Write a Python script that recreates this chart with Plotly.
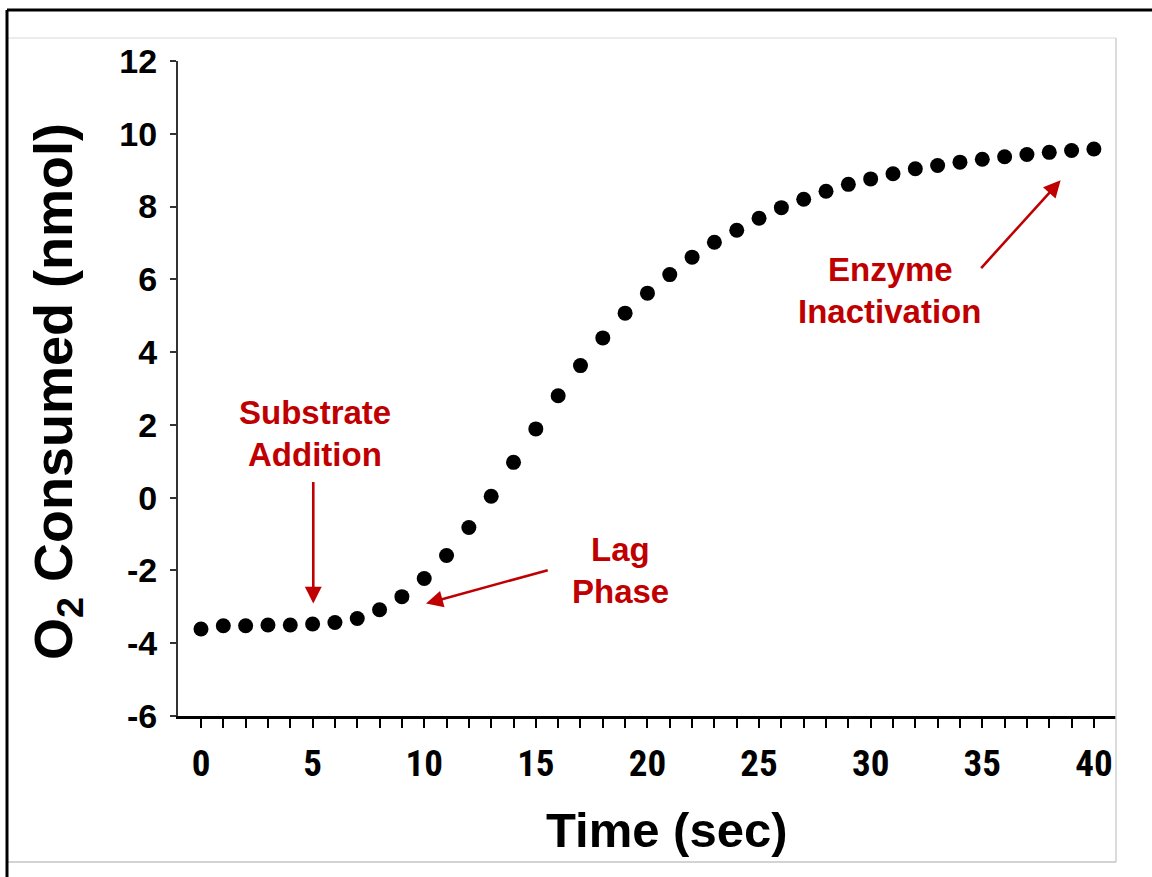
import plotly.graph_objects as go

# ---- data ----
time_sec = list(range(0, 41))
o2_nmol = [-3.61, -3.52, -3.52, -3.50, -3.50, -3.47, -3.43, -3.32, -3.08, -2.72,
           -2.22, -1.59, -0.82, 0.04, 0.97, 1.89, 2.80, 3.63, 4.39, 5.07,
           5.62, 6.13, 6.61, 7.02, 7.35, 7.68, 7.97, 8.20, 8.42, 8.61,
           8.76, 8.90, 9.04, 9.13, 9.22, 9.30, 9.37, 9.43, 9.49, 9.54, 9.58]
x_tick_vals = list(range(0, 41))
x_tick_text = [str(v) if v % 5 == 0 else "" for v in x_tick_vals]
y_tick_vals = [-6, -4, -2, 0, 2, 4, 6, 8, 10, 12]
y_tick_text = [str(v) for v in y_tick_vals]

# ---- layout geometry (pixels) ----
W, H = 1152, 877
L, R, T, B = 178, 36, 61, 161
PW, PH = W - L - R, H - T - B


def px(x):
    return (x - L) / PW


def py(y):
    return (H - B - y) / PH


RED = "#C00000"
BOLD = "Liberation Sans, Arial, Helvetica, sans-serif"
NARROW = "Liberation Sans Narrow, Arial Narrow, Roboto Condensed, Liberation Sans, sans-serif"

fig = go.Figure()
fig.add_trace(go.Scatter(
    x=time_sec, y=o2_nmol, mode="markers",
    marker=dict(size=15, color="black"),
    showlegend=False, hoverinfo="x+y"))

shapes = []


def line(x0, y0, x1, y1, color, width):
    shapes.append(dict(type="line", xref="paper", yref="paper",
                       x0=px(x0), y0=py(y0), x1=px(x1), y1=py(y1),
                       line=dict(color=color, width=width), layer="above"))


line(7, 38, 1116, 38, "#e6e6e6", 1.5)
line(1116, 38, 1116, 862, "#cfcfcf", 1.5)
line(7, 862, 1116, 862, "#c4c4c4", 1.5)
line(7, 10, W, 10, "black", 3)
line(7, 10, 7, H, "black", 3)

annotations = []


def text(label, xp, yp, size=33, color=RED, angle=0):
    annotations.append(dict(text=label, xref="paper", yref="paper",
                            x=px(xp), y=py(yp), xanchor="center", yanchor="middle",
                            showarrow=False, textangle=angle,
                            font=dict(family=BOLD, size=size, color=color)))


def arrow(x_tip, y_tip, x_tail, y_tail):
    annotations.append(dict(text="", x=x_tip, y=y_tip, ax=x_tail, ay=y_tail,
                            xref="x", yref="y", axref="x", ayref="y",
                            showarrow=True, arrowhead=2, arrowsize=1.3,
                            arrowwidth=2.6, arrowcolor=RED, standoff=0))


text("<b>Substrate</b>", 315, 412)
text("<b>Addition</b>", 315, 454)
text("<b>Lag</b>", 620, 549)
text("<b>Phase</b>", 620, 591)
text("<b>Enzyme</b>", 890, 269)
text("<b>Inactivation</b>", 889, 311)
arrow(5.03, -2.91, 5.03, 0.47)
arrow(10.08, -2.91, 15.6, -1.98)
arrow(38.51, 8.72, 34.89, 6.27)

text("<b>Time (sec)</b>", 666, 830, size=49, color="black")
text("<b>O<sub>2</sub> Consumed (nmol)</b>", 57, 392, size=54, color="black", angle=-90)

fig.update_layout(
    width=W, height=H,
    margin=dict(l=L, r=R, t=T, b=B, pad=0),
    paper_bgcolor="white", plot_bgcolor="white",
    shapes=shapes, annotations=annotations,
    xaxis=dict(range=[-1.03, 40.99], tickmode="array", tickvals=x_tick_vals,
               ticktext=x_tick_text, ticks="outside", ticklen=9, tickwidth=2,
               tickcolor="black", showline=True, linecolor="black", linewidth=3,
               showgrid=False, zeroline=False, ticklabelstandoff=4,
               tickfont=dict(family=NARROW, size=37, color="black", weight="bold")),
    yaxis=dict(range=[-6, 12], tickmode="array", tickvals=y_tick_vals,
               ticktext=y_tick_text, ticks="outside", ticklen=6, tickwidth=1.5,
               tickcolor="#333333", showline=True, linecolor="#333333", linewidth=2,
               showgrid=False, zeroline=False, ticklabelstandoff=6,
               tickfont=dict(family=BOLD, size=34, color="black", weight="bold")),
)

fig.write_html("out.html")
